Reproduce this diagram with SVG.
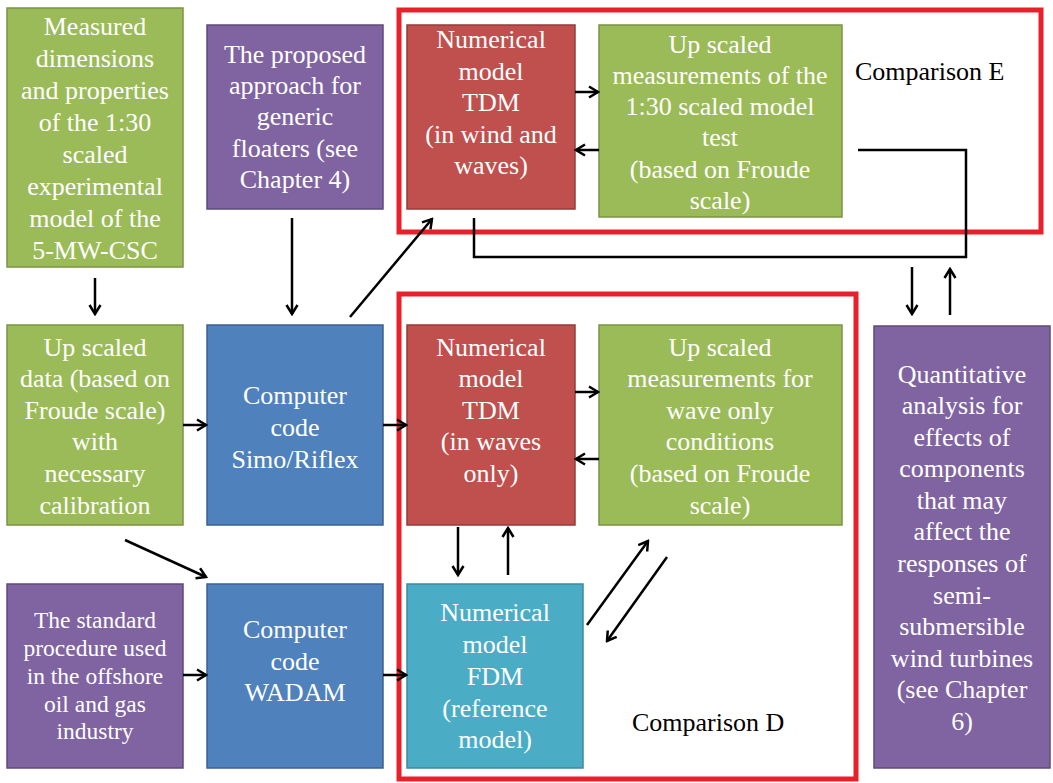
<svg xmlns="http://www.w3.org/2000/svg" width="1053" height="783" viewBox="0 0 1053 783">
<defs>
<marker id="ah" markerUnits="userSpaceOnUse" markerWidth="14" markerHeight="14" viewBox="0 0 14 14" refX="12" refY="7" orient="auto">
<path d="M3,1.5 L12,7 L3,12.5" fill="none" stroke="#000000" stroke-width="2.5"/>
</marker>
</defs>
<rect width="1053" height="783" fill="#ffffff"/>

<g id="frames" fill="none" stroke="#E8202A" stroke-width="5">
<rect x="399" y="10" width="642" height="222"/>
<rect x="399" y="294" width="457" height="485"/>
</g>
<g id="labels" font-family="Liberation Serif" font-size="26" fill="#000000">
<text x="855" y="80">Comparison E</text>
<text x="632" y="731">Comparison D</text>
</g>

<g font-family="Liberation Serif" font-size="26" fill="#ffffff" text-anchor="middle" stroke-width="1.5">

<g id="node-measured">
<rect x="7" y="8" width="176" height="259" fill="#9BBB59" stroke="#7A9440"/>
<text x="95" y="35">Measured</text>
<text x="95" y="67">dimensions</text>
<text x="95" y="99">and properties</text>
<text x="95" y="131">of the 1:30</text>
<text x="95" y="163">scaled</text>
<text x="95" y="195">experimental</text>
<text x="95" y="227">model of the</text>
<text x="95" y="259">5-MW-CSC</text>
</g>

<g id="node-proposed">
<rect x="207" y="25" width="176" height="184" fill="#8064A2" stroke="#5E4A7A"/>
<text x="295" y="63">The proposed</text>
<text x="295" y="94">approach for</text>
<text x="295" y="125">generic</text>
<text x="295" y="157">floaters (see</text>
<text x="295" y="188">Chapter 4)</text>
</g>

<g id="node-tdm-wind">
<rect x="407" y="25" width="168" height="184" fill="#C0504D" stroke="#943B39"/>
<text x="491" y="48">Numerical</text>
<text x="491" y="80">model</text>
<text x="491" y="111">TDM</text>
<text x="491" y="143">(in wind and</text>
<text x="491" y="174">waves)</text>
</g>

<g id="node-upscaled-130">
<rect x="599" y="25" width="243" height="192" fill="#9BBB59" stroke="#7A9440"/>
<text x="720" y="53">Up scaled</text>
<text x="720" y="84">measurements of the</text>
<text x="720" y="115">1:30 scaled model</text>
<text x="720" y="146">test</text>
<text x="720" y="178">(based on Froude</text>
<text x="720" y="209">scale)</text>
</g>

<g id="node-upscaled-data">
<rect x="7" y="325" width="176" height="200" fill="#9BBB59" stroke="#7A9440"/>
<text x="95" y="356">Up scaled</text>
<text x="95" y="387">data (based on</text>
<text x="95" y="419">Froude scale)</text>
<text x="95" y="450">with</text>
<text x="95" y="482">necessary</text>
<text x="95" y="514">calibration</text>
</g>

<g id="node-simo">
<rect x="207" y="325" width="176" height="200" fill="#4F81BD" stroke="#3A6190"/>
<text x="295" y="404">Computer</text>
<text x="295" y="436">code</text>
<text x="295" y="468">Simo/Riflex</text>
</g>

<g id="node-tdm-waves">
<rect x="407" y="325" width="168" height="200" fill="#C0504D" stroke="#943B39"/>
<text x="491" y="356">Numerical</text>
<text x="491" y="387">model</text>
<text x="491" y="419">TDM</text>
<text x="491" y="450">(in waves</text>
<text x="491" y="482">only)</text>
</g>

<g id="node-upscaled-wave">
<rect x="599" y="325" width="243" height="200" fill="#9BBB59" stroke="#7A9440"/>
<text x="720" y="356">Up scaled</text>
<text x="720" y="387">measurements for</text>
<text x="720" y="419">wave only</text>
<text x="720" y="450">conditions</text>
<text x="720" y="482">(based on Froude</text>
<text x="720" y="514">scale)</text>
</g>

<g id="node-quantitative">
<rect x="874" y="326" width="176" height="442" fill="#8064A2" stroke="#5E4A7A"/>
<text x="962" y="383">Quantitative</text>
<text x="962" y="414">analysis for</text>
<text x="962" y="446">effects of</text>
<text x="962" y="477">components</text>
<text x="962" y="509">that may</text>
<text x="962" y="540">affect the</text>
<text x="962" y="572">responses of</text>
<text x="962" y="604">semi-</text>
<text x="962" y="635">submersible</text>
<text x="962" y="667">wind turbines</text>
<text x="962" y="698">(see Chapter</text>
<text x="962" y="730">6)</text>
</g>

<g id="node-standard" font-size="23.5">
<rect x="7" y="584" width="176" height="184" fill="#8064A2" stroke="#5E4A7A"/>
<text x="95" y="628">The standard</text>
<text x="95" y="656">procedure used</text>
<text x="95" y="684">in the offshore</text>
<text x="95" y="712">oil and gas</text>
<text x="95" y="739">industry</text>
</g>

<g id="node-wadam">
<rect x="207" y="584" width="176" height="184" fill="#4F81BD" stroke="#3A6190"/>
<text x="295" y="638">Computer</text>
<text x="295" y="670">code</text>
<text x="295" y="701">WADAM</text>
</g>

<g id="node-fdm">
<rect x="407" y="584" width="176" height="184" fill="#4BACC6" stroke="#3A8BA0"/>
<text x="495" y="621">Numerical</text>
<text x="495" y="653">model</text>
<text x="495" y="685">FDM</text>
<text x="495" y="717">(reference</text>
<text x="495" y="748">model)</text>
</g>

</g>

<g id="connectors" fill="none" stroke="#000000" stroke-width="2.5">
<line x1="95" y1="278" x2="95" y2="314" marker-end="url(#ah)"/>
<line x1="292" y1="218" x2="292" y2="314" marker-end="url(#ah)"/>
<line x1="350" y1="317" x2="432" y2="219" marker-end="url(#ah)"/>
<line x1="183" y1="425" x2="206" y2="425" marker-end="url(#ah)"/>
<line x1="383" y1="425" x2="406" y2="425" marker-end="url(#ah)"/>
<line x1="575" y1="392" x2="598" y2="392" marker-end="url(#ah)"/>
<line x1="599" y1="459" x2="576" y2="459" marker-end="url(#ah)"/>
<line x1="575" y1="92" x2="598" y2="92" marker-end="url(#ah)"/>
<line x1="599" y1="150" x2="576" y2="150" marker-end="url(#ah)"/>
<line x1="125" y1="540" x2="206" y2="577" marker-end="url(#ah)"/>
<line x1="183" y1="675" x2="206" y2="675" marker-end="url(#ah)"/>
<line x1="383" y1="675" x2="406" y2="675" marker-end="url(#ah)"/>
<line x1="458" y1="527" x2="458" y2="575" marker-end="url(#ah)"/>
<line x1="508" y1="575" x2="508" y2="528" marker-end="url(#ah)"/>
<line x1="587" y1="625" x2="648" y2="541" marker-end="url(#ah)"/>
<line x1="667" y1="557" x2="607" y2="641" marker-end="url(#ah)"/>
<polyline points="858,150 966,150 966,257 474,257 474,218"/>
<line x1="912" y1="267" x2="912" y2="314" marker-end="url(#ah)"/>
<line x1="950" y1="315" x2="950" y2="269" marker-end="url(#ah)"/>
</g>
</svg>
